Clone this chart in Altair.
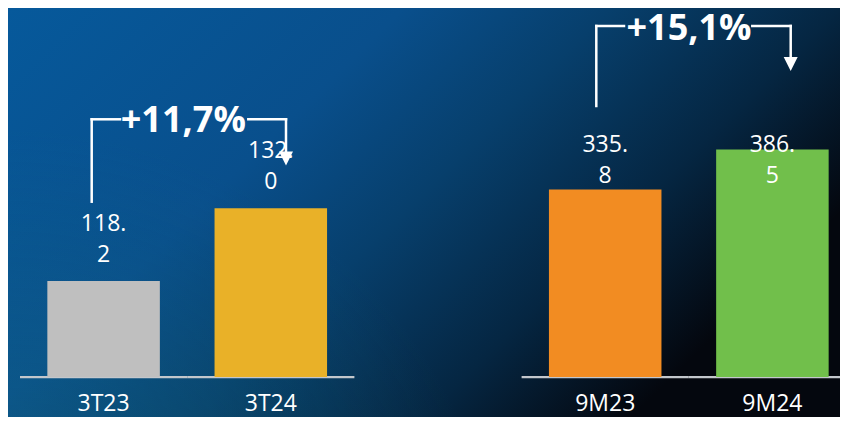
import altair as alt
import pandas as pd

# ---- data ----
cats_q = ["3T23", "3T24"]
vals_q = [118.2, 132.0]
cats_9m = ["9M23", "9M24"]
vals_9m = [335.8, 386.5]

# ---- styles ----
colors_q = ["#bfbfbf", "#e9b128"]
colors_9m = ["#f28c22", "#71bf4b"]
spacer = "\u00a0"
x_domain = cats_q + [spacer] + cats_9m
FONT = "Open Sans"
W, H, PB = 832, 369, 40
LW = 2.5

def lbl(v):
    return f"{v:.1f}".replace(".", ".\n")

def pct(a, b):
    return "+" + f"{(b / a - 1) * 100:.1f}".replace(".", ",") + "%"

df_q = pd.DataFrame({"cat": cats_q, "val": vals_q, "lab": [lbl(v) for v in vals_q]})
df_9m = pd.DataFrame({"cat": cats_9m, "val": vals_9m, "lab": [lbl(v) for v in vals_9m]})
df_all = pd.DataFrame({"cat": cats_q + cats_9m})

pi = 0.327
xs = alt.Scale(domain=x_domain, range=[12, 848], paddingInner=pi, paddingOuter=pi / 2)
xs_full = alt.Scale(domain=x_domain, range=[12, 848], paddingInner=0, paddingOuter=0)

one = pd.DataFrame({"a": [0]})
bg = alt.Chart(one).mark_rect(
    fill=alt.Gradient(
        gradient="linear",
        stops=[
            alt.GradientStop(offset=0, color="#06599b"),
            alt.GradientStop(offset=0.38, color="#094f8c"),
            alt.GradientStop(offset=0.58, color="#073f6c"),
            alt.GradientStop(offset=0.8, color="#052642"),
            alt.GradientStop(offset=1, color="#04070e"),
        ],
        x1=0, y1=0, x2=1, y2=0.5,
    )
).encode(x=alt.value(0), x2=alt.value(W), y=alt.value(0), y2=alt.value(H + PB))

tint = alt.Chart(one).mark_rect(
    fill=alt.Gradient(
        gradient="radial",
        stops=[
            alt.GradientStop(offset=0, color="rgba(20,110,125,0.45)"),
            alt.GradientStop(offset=1, color="rgba(20,110,125,0)"),
        ],
        x1=0, y1=1, r1=0, x2=0, y2=1, r2=0.6,
    )
).encode(x=alt.value(0), x2=alt.value(W), y=alt.value(0), y2=alt.value(H + PB))

def panel(df, cats, colors, ydom, fixed_label_y=None):
    y = alt.Y("val:Q", scale=alt.Scale(domain=ydom, zero=False, nice=False), axis=None)
    bars = alt.Chart(df).mark_bar().encode(
        x=alt.X("cat:N", scale=xs, axis=None),
        y=y,
        y2=alt.datum(ydom[0]),
        color=alt.Color("cat:N", scale=alt.Scale(domain=cats, range=colors), legend=None),
    )
    tmark = dict(baseline="alphabetic", align="center", lineBreak="\n", lineHeight=31,
                 fontSize=23, font=FONT, color="white")
    if fixed_label_y is None:
        txt = alt.Chart(df).mark_text(dy=-50, **tmark).encode(
            x=alt.X("cat:N", scale=xs, axis=None), y=y, text="lab:N")
    else:
        txt = alt.Chart(df).mark_text(**tmark).encode(
            x=alt.X("cat:N", scale=xs, axis=None), y=alt.value(fixed_label_y), text="lab:N")
    return alt.layer(bars, txt)

left = panel(df_q, cats_q, colors_q, [100, 170])
right = panel(df_9m, cats_9m, colors_9m, [98, 566], fixed_label_y=144)

baseline = alt.Chart(df_all).mark_rect(color="#c3c7cc").encode(
    x=alt.X("cat:N", scale=xs_full, axis=None),
    y=alt.value(368), y2=alt.value(370.2))

cat_labels = alt.Chart(df_all).mark_text(
    baseline="alphabetic", align="center", fontSize=23, font=FONT, color="white"
).encode(x=alt.X("cat:N", scale=xs, axis=None), y=alt.value(403), text="cat:N")

def bracket(prev, curr, text, geo):
    d = pd.DataFrame({"prev": [prev], "curr": [curr], "t": [text]})
    base = alt.Chart(d)
    rule = dict(color="white", strokeWidth=LW, strokeCap="square")
    vL = base.mark_rule(xOffset=geo["vL"], **rule).encode(
        x=alt.X("prev:N", scale=xs, axis=None),
        y=alt.value(geo["y0"]), y2=alt.value(geo["yh"]))
    h1 = base.mark_rule(xOffset=geo["vL"], x2Offset=geo["h1"], **rule).encode(
        x=alt.X("prev:N", scale=xs, axis=None, bandPosition=0.5),
        x2=alt.X2("prev:N", bandPosition=0.5),
        y=alt.value(geo["yh"]))
    h2 = base.mark_rule(xOffset=geo["h2"], x2Offset=geo["vR"], **rule).encode(
        x=alt.X("curr:N", scale=xs, axis=None, bandPosition=0.5),
        x2=alt.X2("curr:N", bandPosition=0.5),
        y=alt.value(geo["yh"]))
    vR = base.mark_rule(xOffset=geo["vR"], color="white", strokeWidth=LW).encode(
        x=alt.X("curr:N", scale=xs, axis=None),
        y=alt.value(geo["yh"] - LW / 2), y2=alt.value(geo["ya"] - 6))
    arrow = base.mark_point(xOffset=geo["vR"], shape="M-1,-1L1,-1L0,1Z", size=196,
                            filled=True, opacity=1, color="white", strokeWidth=0).encode(
        x=alt.X("curr:N", scale=xs, axis=None), y=alt.value(geo["ya"]))
    t = base.mark_text(xOffset=geo["t"], baseline="alphabetic", align="center",
                       fontSize=36, fontWeight="bold", font=FONT, color="white").encode(
        x=alt.X("prev:N", scale=xs, axis=None), y=alt.value(geo["yt"]), text="t:N")
    return [vL, h1, h2, vR, arrow, t]

geo_q = dict(vL=-11.9, h1=16.4, t=79.7, h2=-22.5, vR=15.2, y0=193.7, yh=111.3, ya=150.5, yt=124.3)
geo_9m = dict(vL=-8.9, h1=18.8, t=83.8, h2=-20.1, vR=18.3, y0=98, yh=18, ya=56, yt=31.5)

layers = [bg, tint, baseline, left, right, cat_labels]
layers += bracket(cats_q[0], cats_q[1], pct(vals_q[0], vals_q[1]), geo_q)
layers += bracket(cats_9m[0], cats_9m[1], pct(vals_9m[0], vals_9m[1]), geo_9m)

chart = alt.layer(*layers).resolve_scale(
    x="independent", y="independent", color="independent"
).properties(
    width=W, height=H,
    padding={"left": 0, "top": 0, "right": 0, "bottom": PB},
    autosize=alt.AutoSizeParams(type="none"),
).configure_view(stroke=None)

chart.save("out.html", embed_options={"renderer": "svg", "actions": False})
